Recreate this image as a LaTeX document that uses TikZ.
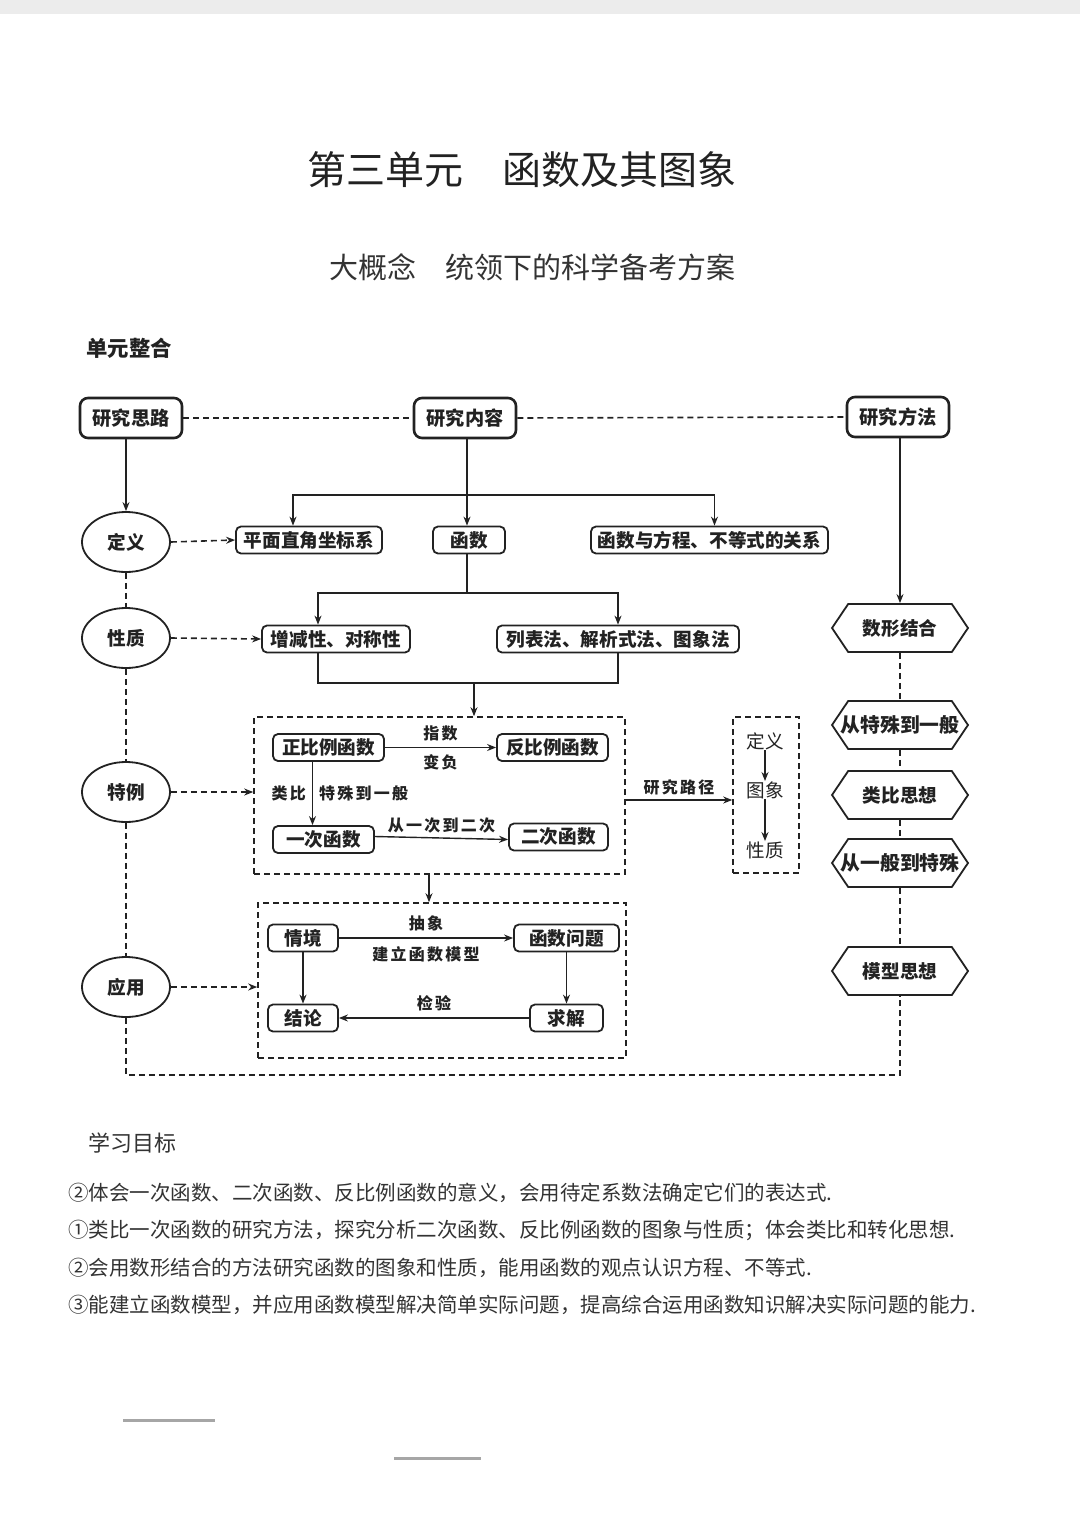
\documentclass[tikz,border=0pt]{standalone}
\usepackage{fontspec}
\newfontfamily\cjk{Noto Sans CJK SC}
\newfontfamily\cjkls{Noto Sans CJK SC}[LetterSpace=14]
\usetikzlibrary{shapes.geometric,shapes.symbols,arrows.meta,calc}
\definecolor{ink}{HTML}{222222}
\definecolor{txt}{HTML}{333333}
\definecolor{band}{HTML}{ECECEC}
\begin{document}
\begin{tikzpicture}[x=0.5pt,y=-0.5pt,
 topbox/.style={draw=ink, line width=1.3pt, rounded corners=4pt, minimum width=51pt, minimum height=20pt, inner sep=0pt, font=\cjk\bfseries\fontsize{9.6}{10}\selectfont, text=ink},
 bx/.style={draw=ink, line width=0.9pt, rounded corners=2.5pt, minimum height=13.5pt, inner sep=0pt, font=\cjk\bfseries\fontsize{9.3}{10}\selectfont, text=ink},
 ell/.style={ellipse, draw=ink, line width=0.9pt, minimum width=44pt, minimum height=30pt, inner sep=0pt, font=\cjk\bfseries\fontsize{9.3}{10}\selectfont, text=ink},
 hexa/.style={signal, signal to=west and east, signal pointer angle=112, draw=ink, line width=0.9pt, minimum width=68pt, minimum height=24pt, inner sep=0pt, font=\cjk\bfseries\fontsize{9.3}{10}\selectfont, text=ink},
 hexw/.style={hexa, inner xsep=-5pt, font=\cjk\bfseries\fontsize{9.9}{10}\selectfont},
 dbox/.style={draw=ink, line width=0.8pt, dash pattern=on 3pt off 2pt, inner sep=0pt},
 arr/.style={draw=ink, line width=0.7pt, -{Stealth[length=4.5pt,width=3.5pt]}},
 dl/.style={draw=ink, line width=0.8pt, dash pattern=on 3pt off 2pt},
 darr/.style={dl, -{Stealth[length=4.5pt,width=3.5pt]}},
 lab/.style={font=\cjkls\bfseries\fontsize{8}{9}\selectfont, inner sep=0pt, text=ink},
 plain/.style={font=\cjk\fontsize{9.3}{10}\selectfont, inner sep=0pt, text=ink},
 obj/.style={anchor=west, inner sep=0pt, font=\cjk\fontsize{10.25}{11}\selectfont, text=txt},
]
\useasboundingbox (0,0) rectangle (1080,1531);
\fill[white] (0,0) rectangle (1080,1531);
\fill[band] (0,0) rectangle (1080,14);

% titles
\node[inner sep=0pt, font=\cjk\fontsize{19.5}{20}\selectfont, text=ink] (title) at (522,170) {第三单元\hspace{1em}函数及其图象};
\node[inner sep=0pt, font=\cjk\fontsize{14.5}{15}\selectfont, text=txt] (subtitle) at (532,267) {大概念\hspace{1em}统领下的科学备考方案};
\node[anchor=west, inner sep=0pt, font=\cjk\bfseries\fontsize{10.7}{11}\selectfont, text=ink] (zh) at (86,348) {单元整合};

% top row
\node[topbox] (si) at (131,418) {研究思路};
\node[topbox] (nr) at (465,418) {研究内容};
\node[topbox] (ff) at (898,417) {研究方法};
\draw[dl] (si.east) -- (nr.west);
\draw[dl] (nr.east) -- (ff.west);

% left ellipses
\node[ell] (de) at (126,542) {定义};
\node[ell] (xz) at (126,638) {性质};
\node[ell] (te) at (126,792) {特例};
\node[ell] (yy) at (126,987) {应用};

% content boxes
\node[bx, minimum width=73pt] (zj) at (309,540) {平面直角坐标系};
\node[bx, minimum width=36pt] (hs) at (469,540) {函数};
\node[bx, minimum width=118.5pt] (gx) at (709.5,540) {函数与方程、不等式的关系};
\node[bx, minimum width=74pt] (zs) at (336,639) {增减性、对称性};
\node[bx, minimum width=121pt] (lb) at (618,639) {列表法、解析式法、图象法};

% dashed containers
\node[dbox, minimum width=185.5pt, minimum height=78.5pt] (B1) at (439.5,795.5) {};
\node[dbox, minimum width=33pt, minimum height=78pt] (B3) at (766,795) {};
\node[dbox, minimum width=184pt, minimum height=77.5pt] (B2) at (442,980.5) {};

% box 1 contents
\node[bx, minimum width=55.5pt] (zb) at (328.5,747.5) {正比例函数};
\node[bx, minimum width=55.5pt] (fb) at (552.5,747.5) {反比例函数};
\node[bx, minimum width=50.5pt] (yc) at (323.5,839.5) {一次函数};
\node[bx, minimum width=49.5pt] (ec) at (558.5,837) {二次函数};

% box 3 contents
\node[plain] (d3) at (765,741) {定义};
\node[plain] (t3) at (765,790) {图象};
\node[plain] (x3) at (765,850) {性质};

% box 2 contents
\node[bx, minimum width=35pt] (qj) at (303,938) {情境};
\node[bx, minimum width=52.5pt] (hw) at (566.5,938) {函数问题};
\node[bx, minimum width=35pt] (jl) at (303,1018) {结论};
\node[bx, minimum width=36.5pt] (qx) at (566.5,1018) {求解};

% right hexagons
\node[hexa] (h1) at (900,628) {数形结合};
\node[hexw] (h2) at (900,725) {从特殊到一般};
\node[hexa] (h3) at (900,795) {类比思想};
\node[hexw] (h4) at (900,863) {从一般到特殊};
\node[hexa] (h5) at (900,971) {模型思想};

% helper coordinates
\coordinate (b1) at (467,495);
\coordinate (b2) at (467,593);
\coordinate (b3) at (474,683);
\coordinate (xa) at (429,0);
\coordinate (ya) at (0,800);
\coordinate (cl) at (125,1075);
\coordinate (cr) at (900,1075);

% solid connectors
\draw[arr] (si.south -| de.north) -- (de.north);
\draw[arr] (nr.south -| b1) -- ([xshift=-1pt]hs.north);
\draw[arr] (b1) -| ([xshift=-8pt]zj.north);
\draw[arr] (b1) -| ([xshift=2.5pt]gx.north);
\draw[draw=ink, line width=0.7pt] ([xshift=-1pt]hs.south) -- (b2);
\draw[arr] (b2) -| ([xshift=-9pt]zs.north);
\draw[arr] (b2) -| (lb.north);
\draw[draw=ink, line width=0.7pt] ([xshift=-9pt]zs.south) |- (b3) -| (lb.south);
\draw[arr] (b3) -- (b3 |- B1.north);
\draw[arr] (ff.south -| h1.north) -- (h1.north);

% box 1 arrows
\draw[arr] (zb.east) -- (fb.west) node[midway, above=3pt, lab] {指数} node[midway, below=3pt, lab] {变负};
\draw[arr] ([xshift=-8pt]zb.south) -- ([xshift=-8pt]zb.south |- yc.north)
  node[midway, left=3pt, lab] {类比} node[midway, right=3pt, lab] {特殊到一般};
\draw[arr] ([yshift=1.5pt]yc.east) -- (yc.east -| ec.west) node[midway, above=2pt, lab] {从一次到二次};
\draw[arr] (B1.east |- ya) -- (B3.west |- ya) node[midway, above=2pt, lab] {研究路径};
\draw[arr] (d3.south) -- (t3.north);
\draw[arr] (t3.south) -- (x3.north);
\draw[arr] (B1.south -| xa) -- (B2.north -| xa);

% box 2 arrows
\draw[arr] (qj.east) -- (hw.west) node[midway, above=3pt, lab] {抽象} node[midway, below=4pt, lab] {建立函数模型};
\draw[arr] (hw.south) -- (hw.south |- qx.north);
\draw[arr] (qx.west) -- (jl.east) node[midway, above=3pt, lab] {检验};
\draw[arr] (qj.south) -- (jl.north);

% dashed connectors
\draw[darr] (de.east) -- (zj.west);
\draw[darr] (xz.east) -- (zs.west);
\draw[darr] (te.east) -- (te.east -| B1.west);
\draw[darr] (yy.east) -- (yy.east -| B2.west);
\draw[dl] (de.south) -- (xz.north);
\draw[dl] (xz.south) -- (te.north);
\draw[dl] (te.south) -- (yy.north);
\draw[dl] (yy.south) -- (yy.south |- cl) -- (cr) -- (h5.south);
\draw[dl] (h1.south) -- (h2.north);
\draw[dl] (h2.south) -- (h3.north);
\draw[dl] (h3.south) -- (h4.north);
\draw[dl] (h4.south) -- (h5.north);

% learning goals
\node[anchor=west, inner sep=0pt, font=\cjk\fontsize{11}{11}\selectfont, text=txt] (xm) at (88,1143) {学习目标};
\node[obj] (o1) at (68,1193) {②体会一次函数、二次函数、反比例函数的意义，会用待定系数法确定它们的表达式.};
\node[obj] (o2) at (68,1230) {①类比一次函数的研究方法，探究分析二次函数、反比例函数的图象与性质；体会类比和转化思想.};
\node[obj] (o3) at (68,1268) {②会用数形结合的方法研究函数的图象和性质，能用函数的观点认识方程、不等式.};
\node[obj] (o4) at (68,1305) {③能建立函数模型，并应用函数模型解决简单实际问题，提高综合运用函数知识解决实际问题的能力.};

% blank lines
\draw[gray!70, line width=1.5pt] (123,1420) -- (215,1420);
\draw[gray!70, line width=1.5pt] (394,1458) -- (481,1458);
\end{tikzpicture}
\end{document}
